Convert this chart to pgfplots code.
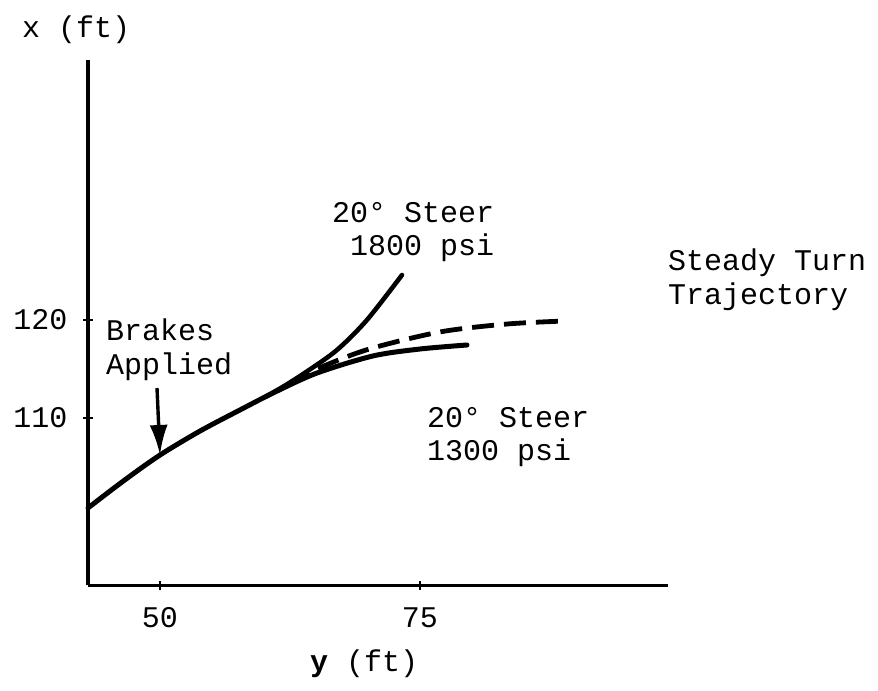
\documentclass[border=0pt]{standalone}
\usepackage{fontspec}
\setmainfont{Liberation Mono}
\usepackage{pgfplots}
\pgfplotsset{compat=1.18}
\usetikzlibrary{arrows.meta}
\begin{document}
\fontsize{30bp}{36bp}\selectfont
\begin{tikzpicture}
\useasboundingbox (0,0) rectangle (878bp,-691bp);
\begin{axis}[
  at={(88bp,-585bp)}, anchor=south west,
  scale only axis, width=580bp, height=525bp,
  xmin=43.08, xmax=98.85, ymin=92.96, ymax=146.53,
  axis lines=left,
  axis line style={-, line width=3bp},
  xtick={50,75}, ytick={110,120},
  tick align=center, major tick length=9bp,
  tick style={line width=2.2bp, black},
  /pgf/number format/assume math mode=true,
  ticklabel style={font=\fontsize{30bp}{36bp}\selectfont},
  xticklabel style={yshift=-8bp},
  yticklabel style={xshift=-6bp},
  clip=false,
]
\addplot[black, line width=5bp, smooth, tension=0.5, line cap=round] coordinates {
 (43.08,100.82) (46.54,103.62) (50,106.22) (53.85,108.67) (57.69,110.82)
 (61.06,112.65) (65.10,114.59) (70.48,116.33) (75.0,117.04) (79.52,117.45)};
\addplot[black, line width=4.6bp, smooth, tension=0.5, line cap=round] coordinates {
 (60.2,112.2) (62.0,113.3) (64.13,114.75) (67.02,116.94) (69.90,120.0) (73.27,124.59)};
\addplot[black, line width=4.8bp, smooth, tension=0.5, dash pattern=on 22bp off 10bp] coordinates {
 (62.5,113.5) (65.10,115.0) (70,117.0) (76.92,118.78) (83.37,119.59) (88.94,119.90)};
\end{axis}
\draw[line width=3.4bp, -{Latex[length=30bp,width=18bp]}] (157bp,-388bp) -- (160bp,-455bp);
\node[anchor=west, inner sep=0pt] at (22bp,-30bp) {x (ft)};
\node[anchor=west, inner sep=0pt] at (310bp,-664bp) {\textbf{y} (ft)};
\node[anchor=west, inner sep=0pt] at (106bp,-330bp) {Brakes};
\node[anchor=west, inner sep=0pt] at (106bp,-367bp) {Applied};
\node[anchor=west, inner sep=0pt] at (332bp,-213bp) {20° Steer};
\node[anchor=west, inner sep=0pt] at (350bp,-248bp) {1800 psi};
\node[anchor=west, inner sep=0pt] at (668bp,-263bp) {Steady Turn};
\node[anchor=west, inner sep=0pt] at (668bp,-297bp) {Trajectory};
\node[anchor=west, inner sep=0pt] at (427bp,-418bp) {20° Steer};
\node[anchor=west, inner sep=0pt] at (427bp,-453bp) {1300 psi};
\end{tikzpicture}
\end{document}
